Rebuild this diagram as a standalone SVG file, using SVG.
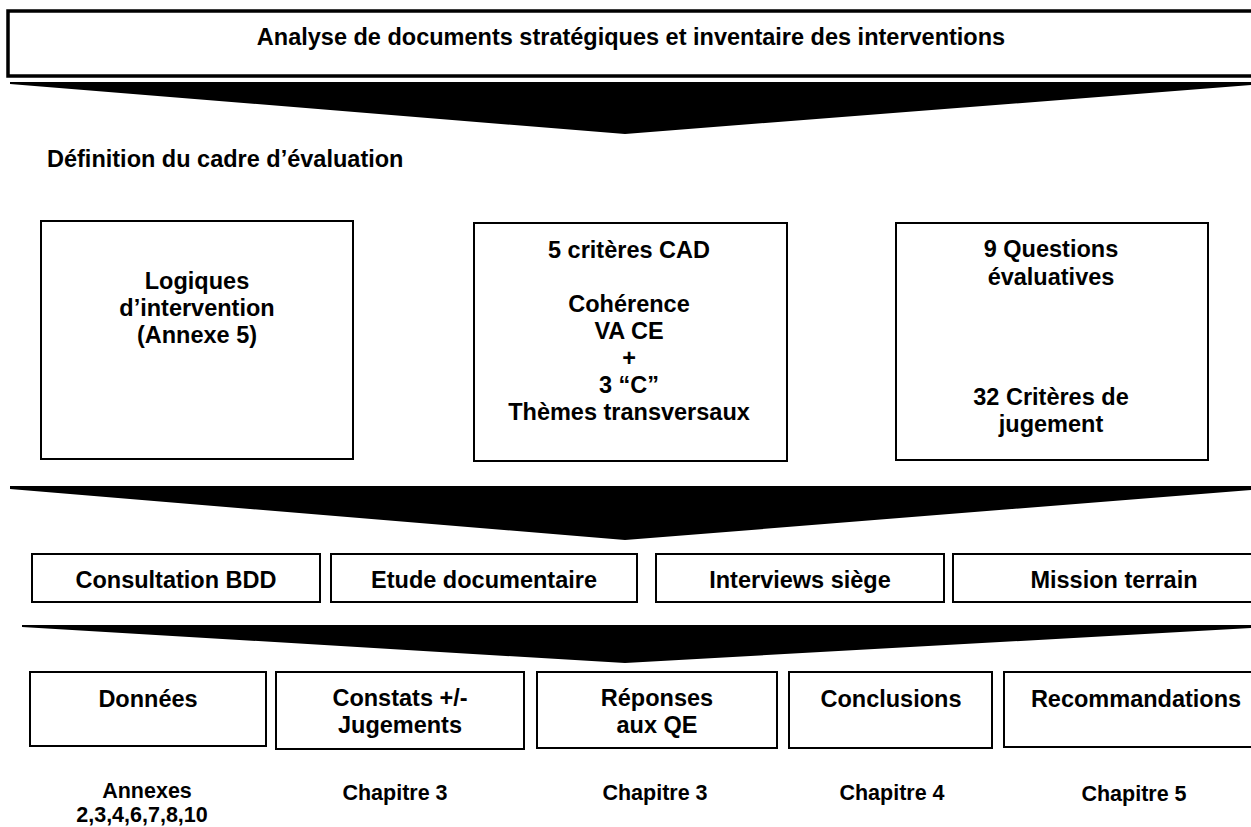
<svg xmlns="http://www.w3.org/2000/svg" width="1251" height="827" viewBox="0 0 1251 827">
  <style>
    text { font-family: "Liberation Sans", Arial, sans-serif; font-weight: bold; fill: #000; text-anchor: middle; }
    .t { font-size: 23.5px; }
    .lbl { font-size: 21.5px; }
    .head { font-size: 23.5px; text-anchor: start; }
    .box { fill: #fff; stroke: #000; stroke-width: 2; }
    .frame { fill: #fff; stroke: #000; stroke-width: 3.5; }
    .funnel { fill: #000; stroke: none; }
  </style>
  <rect x="0" y="0" width="1251" height="827" fill="#fff"/>

  <!-- funnel arrows between stages -->
  <g id="connectors">
    <polygon class="funnel" points="10,82 1251,82 1251,85 625,134 10,84"/>
    <polygon class="funnel" points="10,486 1251,486 1251,490 625,540 10,489"/>
    <polygon class="funnel" points="22,625 1251,625 1251,628 625,663 22,627"/>
  </g>

  <g id="analyse">
    <rect class="frame" x="8" y="11" width="1250" height="65"/>
    <text class="t" x="631" y="45">Analyse de documents stratégiques et inventaire des interventions</text>
  </g>

  <g id="cadre">
    <text class="head" x="47" y="167">Définition du cadre d’évaluation</text>
  </g>

  <g id="logiques">
    <rect class="box" x="41" y="221" width="312" height="238"/>
    <text class="t" x="197" y="289">Logiques</text>
    <text class="t" x="197" y="316">d’intervention</text>
    <text class="t" x="197" y="343">(Annexe 5)</text>
  </g>

  <g id="criteres">
    <rect class="box" x="474" y="223" width="313" height="238"/>
    <text class="t" x="629" y="258">5 critères CAD</text>
    <text class="t" x="629" y="312">Cohérence</text>
    <text class="t" x="629" y="339">VA CE</text>
    <text class="t" x="629" y="366">+</text>
    <text class="t" x="629" y="393">3 “C”</text>
    <text class="t" x="629" y="420">Thèmes transversaux</text>
  </g>

  <g id="questions">
    <rect class="box" x="896" y="223" width="312" height="237"/>
    <text class="t" x="1051" y="257">9 Questions</text>
    <text class="t" x="1051" y="285">évaluatives</text>
    <text class="t" x="1051" y="405">32 Critères de</text>
    <text class="t" x="1051" y="432">jugement</text>
  </g>

  <g id="consultation">
    <rect class="box" x="32" y="554" width="288" height="48"/>
    <text class="t" x="176" y="588">Consultation BDD</text>
  </g>
  <g id="etude">
    <rect class="box" x="331" y="554" width="306" height="48"/>
    <text class="t" x="484" y="588">Etude documentaire</text>
  </g>
  <g id="interviews">
    <rect class="box" x="656" y="554" width="288" height="48"/>
    <text class="t" x="800" y="588">Interviews siège</text>
  </g>
  <g id="mission">
    <rect class="box" x="953" y="554" width="320" height="48"/>
    <text class="t" x="1114" y="588">Mission terrain</text>
  </g>

  <g id="donnees">
    <rect class="box" x="30" y="672" width="236" height="74"/>
    <text class="t" x="148" y="707">Données</text>
    <text class="lbl" x="147" y="798">Annexes</text>
    <text class="lbl" x="142" y="822">2,3,4,6,7,8,10</text>
  </g>
  <g id="constats">
    <rect class="box" x="276" y="672" width="248" height="77"/>
    <text class="t" x="400" y="706">Constats +/-</text>
    <text class="t" x="400" y="733">Jugements</text>
    <text class="lbl" x="395" y="800">Chapitre 3</text>
  </g>
  <g id="reponses">
    <rect class="box" x="537" y="672" width="240" height="76"/>
    <text class="t" x="657" y="706">Réponses</text>
    <text class="t" x="657" y="733">aux QE</text>
    <text class="lbl" x="655" y="800">Chapitre 3</text>
  </g>
  <g id="conclusions">
    <rect class="box" x="789" y="672" width="203" height="76"/>
    <text class="t" x="891" y="707">Conclusions</text>
    <text class="lbl" x="892" y="800">Chapitre 4</text>
  </g>
  <g id="recommandations">
    <rect class="box" x="1004" y="672" width="264" height="75"/>
    <text class="t" x="1136" y="707">Recommandations</text>
    <text class="lbl" x="1134" y="801">Chapitre 5</text>
  </g>
</svg>
